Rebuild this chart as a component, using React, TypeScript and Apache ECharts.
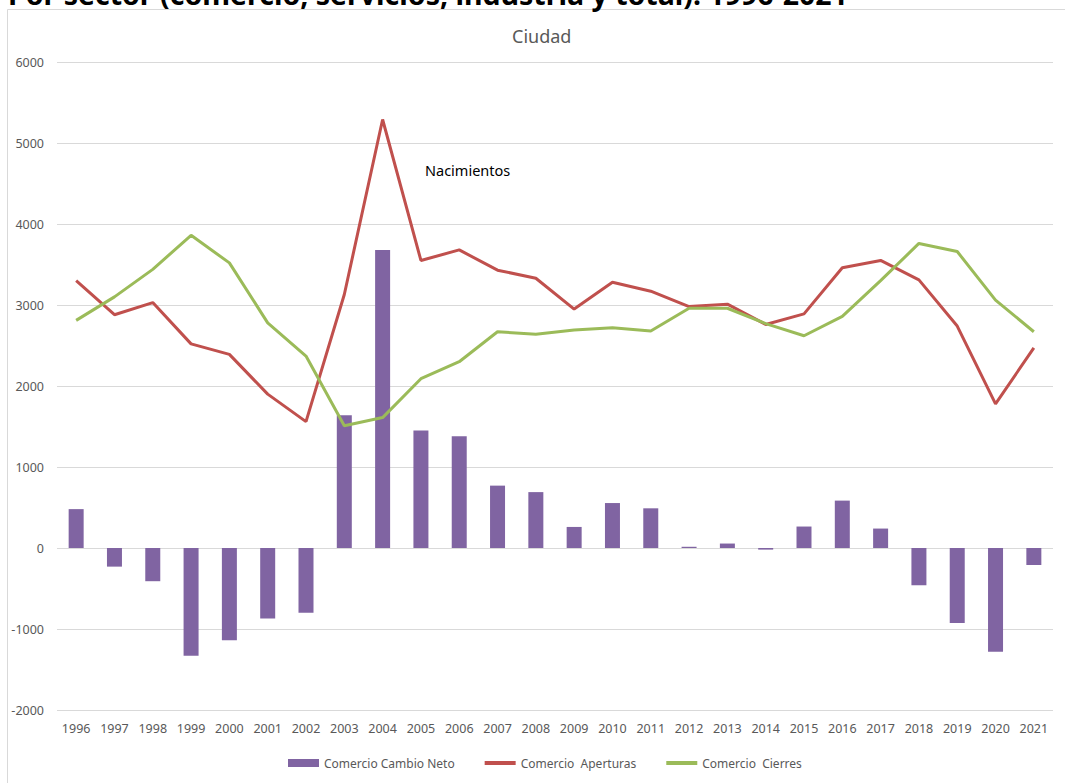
import React, { useEffect, useRef } from "react";
import * as echarts from "echarts";

const years = ["1996","1997","1998","1999","2000","2001","2002","2003","2004","2005","2006","2007","2008","2009","2010","2011","2012","2013","2014","2015","2016","2017","2018","2019","2020","2021"];
const cambioNeto = [480, -230, -410, -1330, -1140, -870, -800, 1640, 3680, 1450, 1380, 770, 690, 260, 555, 490, 15, 55, -20, 265, 585, 240, -460, -925, -1280, -210];
const aperturas = [3300, 2880, 3030, 2520, 2390, 1900, 1560, 3130, 5290, 3550, 3680, 3430, 3330, 2950, 3280, 3170, 2980, 3010, 2760, 2890, 3460, 3550, 3310, 2740, 1780, 2470];
const cierres = [2810, 3100, 3440, 3860, 3520, 2780, 2370, 1510, 1610, 2090, 2300, 2670, 2640, 2690, 2720, 2680, 2960, 2960, 2770, 2620, 2860, 3300, 3760, 3660, 3060, 2670];
const seriesNames = ["Comercio Cambio Neto", "Comercio  Aperturas", "Comercio  Cierres"];
const chartTitle = "Ciudad";
const pageHeading = "Por sector (comercio, servicios, industria y total). 1996-2021";
const annotation = "Nacimientos";

const FONT = "'Noto Sans', 'DejaVu Sans', sans-serif";

export default function App() {
  const ref = useRef<HTMLDivElement>(null);
  useEffect(() => {
    document.body.style.margin = "0";
    const chart = echarts.init(ref.current!, null, { renderer: "svg" });
    chart.setOption({
      animation: false,
      backgroundColor: "#ffffff",
      textStyle: { fontFamily: FONT },
      title: {
        text: chartTitle,
        left: 512,
        top: 27,
        padding: 0,
        textStyle: { fontSize: 18, fontWeight: "normal", color: "#595959", fontFamily: FONT },
      },
      graphic: [
        {
          type: "rect",
          shape: { x: 7.5, y: 9.5, width: 1100, height: 800 },
          style: { fill: "none", stroke: "#d9d9d9", lineWidth: 1 },
          silent: true,
        },
        {
          type: "text",
          x: 8,
          y: -6,
          style: {
            text: pageHeading,
            fontSize: 28.5,
            fontWeight: "bold",
            fill: "#000000",
            fontFamily: FONT,
            align: "left",
            verticalAlign: "middle",
          },
        },
        {
          type: "text",
          x: 425,
          y: 170,
          style: {
            text: annotation,
            fontSize: 14.5,
            fill: "#000000",
            fontFamily: FONT,
            align: "left",
            verticalAlign: "middle",
          },
        },
      ],
      legend: {
        left: 288,
        top: 757,
        itemWidth: 31,
        itemHeight: 8,
        itemGap: 28,
        padding: 0,
        textStyle: { fontSize: 12, color: "#595959", fontFamily: FONT },
        data: [
          { name: seriesNames[0], icon: "rect" },
          { name: seriesNames[1], itemStyle: { opacity: 0 }, lineStyle: { width: 4, color: "#C0504D" } },
          { name: seriesNames[2], itemStyle: { opacity: 0 }, lineStyle: { width: 4, color: "#9BBB59" } },
        ],
      },
      grid: { left: 57, right: 12, top: 62, bottom: 73 },
      xAxis: {
        type: "category",
        data: years,
        boundaryGap: true,
        axisLine: { show: false },
        axisTick: { show: false },
        axisLabel: { color: "#595959", fontSize: 12.5, margin: 12, fontFamily: FONT },
      },
      yAxis: {
        type: "value",
        min: -2000,
        max: 6000,
        interval: 1000,
        axisLine: { show: false },
        axisTick: { show: false },
        axisLabel: {
          color: "#595959",
          fontSize: 12.5,
          margin: 13,
          fontFamily: FONT,
          formatter: (v: number) => String(v),
        },
        splitLine: { lineStyle: { color: "#d9d9d9", width: 1 } },
      },
      series: [
        {
          name: seriesNames[0],
          type: "bar",
          data: cambioNeto,
          barWidth: 15,
          itemStyle: { color: "#8064A2" },
        },
        {
          name: seriesNames[1],
          type: "line",
          data: aperturas,
          symbol: "none",
          lineStyle: { color: "#C0504D", width: 3 },
          itemStyle: { color: "#C0504D" },
        },
        {
          name: seriesNames[2],
          type: "line",
          data: cierres,
          symbol: "none",
          lineStyle: { color: "#9BBB59", width: 3 },
          itemStyle: { color: "#9BBB59" },
        },
      ],
    });
    return () => chart.dispose();
  }, []);
  return (
    <div
      ref={ref}
      style={{ position: "absolute", left: 0, top: 0, width: 1065, height: 783 }}
    />
  );
}
